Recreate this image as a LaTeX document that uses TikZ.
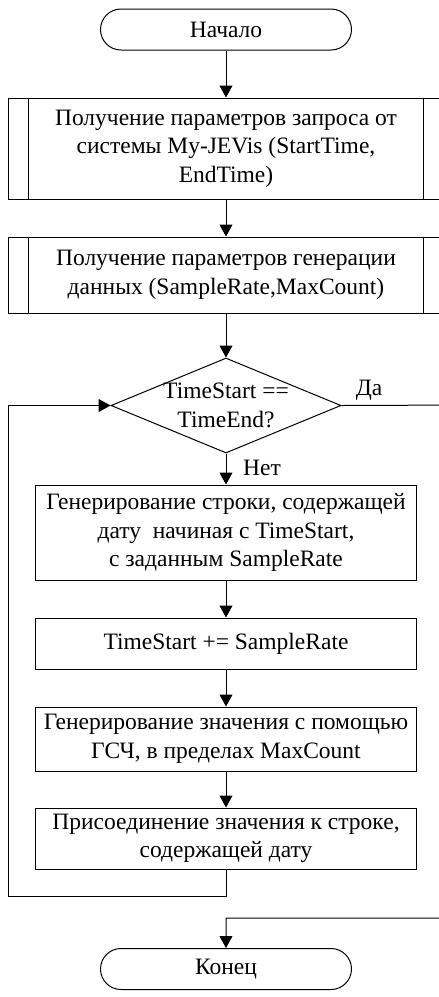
\documentclass[tikz,border=0pt]{standalone}
\usepackage{fontspec}
\setmainfont{Liberation Serif}
\usetikzlibrary{arrows.meta,shapes.geometric}
\begin{document}
\begin{tikzpicture}[x=1pt,y=-1pt,
  every node/.style={font=\fontsize{23.5}{28.5}\selectfont},
  box/.style={draw, line width=1pt, inner sep=0pt, align=center},
  term/.style={box, rounded corners=20.5pt, minimum width=251pt, minimum height=41pt},
  flow/.style={draw, line width=1pt, -{Triangle[length=12pt,width=13pt]}},
  plain/.style={draw, line width=1pt}
]
\useasboundingbox (0,0) rectangle (439,997);
\clip (0,0) rectangle (439,997);

\node[term] (start) at (226,29.5) {Начало};
\node[box, minimum width=436pt, minimum height=101pt] (b1) at (226,148.5)
  {Получение параметров запроса от\\системы My-JEVis (StartTime,\\EndTime)};
\node[box, minimum width=436pt, minimum height=76pt] (b2) at (226,275)
  {Получение параметров генерации\\данных (SampleRate,MaxCount)};
\node[draw, line width=1pt, diamond, minimum width=230pt, minimum height=95pt, inner sep=0pt] (d) at (226,405.5) {};
\node[align=center, inner sep=0pt] (dt) at (d.center) {TimeStart ==\\TimeEnd?};
\node[box, minimum width=381pt, minimum height=95pt] (b3) at (226,532.5)
  {Генерирование строки, содержащей\\дату\ \ начиная с TimeStart,\\с заданным SampleRate};
\node[box, minimum width=381pt, minimum height=51pt] (b4) at (226,643.5)
  {TimeStart += SampleRate};
\node[box, minimum width=381pt, minimum height=64pt] (b5) at (226,739)
  {Генерирование значения с помощью\\ГСЧ, в пределах MaxCount};
\node[box, minimum width=381pt, minimum height=61pt] (b6) at (226,838.5)
  {Присоединение значения к строке,\\содержащей дату};
\node[term] (end) at (226,969) {Конец};

\foreach \n in {b1,b2}{
  \draw[plain] ([xshift=21pt]\n.north west) -- ([xshift=21pt]\n.south west);
  \draw[plain] ([xshift=-21pt]\n.north east) -- ([xshift=-21pt]\n.south east);
}

\node (yes) at (369,390) {Да};
\node (no) at (262,468) {Нет};

\coordinate (lb) at (8.5,896);
\coordinate (rr) at (470,405);
\coordinate (rj) at (226,918);

\draw[flow] (start) -- (b1);
\draw[flow] (b1) -- (b2);
\draw[flow] (b2) -- (d.north);
\draw[flow] (d.south) -- (b3);
\draw[flow] (b3) -- (b4);
\draw[flow] (b4) -- (b5);
\draw[flow] (b5) -- (b6);
\draw[flow] (b6.south) |- (lb) |- (d.west);
\draw[flow] (d.east) -- (rr) |- (rj) -- (end.north);
\end{tikzpicture}
\end{document}
